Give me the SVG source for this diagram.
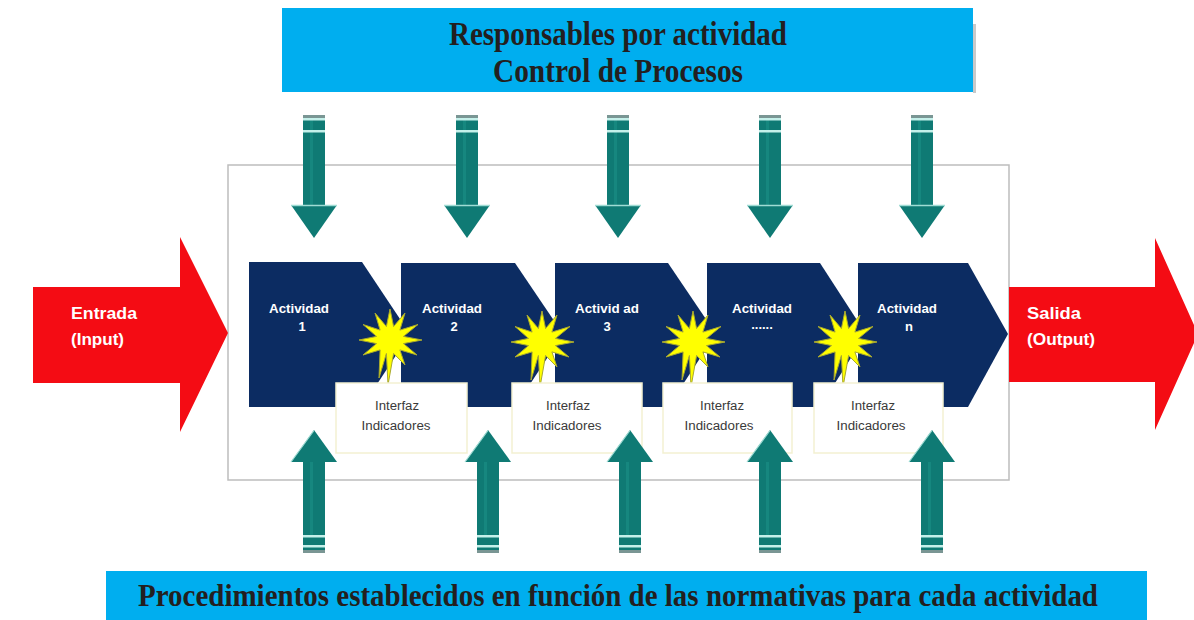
<svg xmlns="http://www.w3.org/2000/svg" xmlns:xlink="http://www.w3.org/1999/xlink" width="1194" height="620" viewBox="0 0 1194 620">
<style>
.banner{fill:#00AEEF}
.title{font-family:"Liberation Serif","DejaVu Serif",serif;font-weight:bold;fill:#231f20;text-anchor:middle}
.act{fill:#0c2c62}
.actT{font-family:"Liberation Sans","DejaVu Sans",sans-serif;font-weight:bold;font-size:13px;fill:#ffffff;text-anchor:middle}
.box{fill:#ffffff;stroke:#f3f1d2;stroke-width:1.5}
.boxT{font-family:"Liberation Sans","DejaVu Sans",sans-serif;font-size:12px;fill:#3a3a3a;text-anchor:middle}
.red{fill:#f40c14}
.redT{font-family:"Liberation Sans","DejaVu Sans",sans-serif;font-weight:bold;font-size:16px;fill:#ffffff}
.teal{fill:#0f7a74}
.lite{fill:#c4f0ea}
.band{fill:#7a9694}
.star{fill:#ffff00;stroke:#a8a830;stroke-width:1}
</style>
<defs>
<g id="downArrow">
<rect class="teal" x="-11" y="0" width="22" height="92"/>
<rect fill="#16877f" x="-4" y="5" width="3" height="87"/>
<rect class="band" x="-11" y="0" width="22" height="3"/>
<rect class="lite" x="-11" y="3" width="22" height="2.5"/>
<rect class="lite" x="-11" y="15" width="22" height="2.5"/>
<polygon class="teal" points="-23,90 23,90 0,123"/>
<line x1="-23" y1="90.5" x2="23" y2="90.5" stroke="#9fdcd4" stroke-width="1.5"/>
</g>
<g id="upArrow">
<polygon class="teal" points="0,0 23,32 -23,32"/>
<line x1="0" y1="0.5" x2="-23" y2="32" stroke="#9fdcd4" stroke-width="1.2"/>
<rect class="teal" x="-11" y="31" width="22" height="92"/>
<rect fill="#16877f" x="-4" y="32" width="3" height="73"/>
<rect class="lite" x="-11" y="105" width="22" height="2.5"/>
<rect class="lite" x="-11" y="115" width="22" height="2.5"/>
<rect class="band" x="-11" y="120" width="22" height="3"/>
</g>
<polygon id="burst" points="0,-31 3.6,-13.5 15,-27 9.9,-9.9 28,-15.5 13.5,-3.6 32,0 13.5,3.6 27,15 9.9,9.9 15,25 3.6,13.5 -2,45 -3.6,13.5 -11,38 -9.9,9.9 -27,15 -13.5,3.6 -31,0 -13.5,-3.6 -27,-15.5 -9.9,-9.9 -15,-27 -3.6,-13.5"/>
</defs>

<g id="frame">
<rect x="228" y="165" width="781" height="315" fill="#ffffff" stroke="#bdbdbd" stroke-width="1.5"/>
</g>

<g id="title">
<rect class="banner" x="282" y="8" width="691" height="84"/>
<rect x="973" y="24" width="3" height="69" fill="#c9c9c9"/>
<text class="title" x="618" y="45" font-size="34" textLength="338" lengthAdjust="spacingAndGlyphs">Responsables por actividad</text>
<text class="title" x="618" y="82" font-size="34" textLength="250" lengthAdjust="spacingAndGlyphs">Control de Procesos</text>
</g>

<g id="connectors">
<use xlink:href="#downArrow" transform="translate(314,115)"/>
<use xlink:href="#downArrow" transform="translate(467,115)"/>
<use xlink:href="#downArrow" transform="translate(618,115)"/>
<use xlink:href="#downArrow" transform="translate(770,115)"/>
<use xlink:href="#downArrow" transform="translate(922,115)"/>
</g>

<g id="actividad1">
<polygon class="act" points="249,262 362,262 410,334 362,407 249,407"/>
<text class="actT" x="299" y="313" textLength="60" lengthAdjust="spacingAndGlyphs">Actividad</text>
<text class="actT" x="302" y="331">1</text>
</g>
<g id="actividad2">
<polygon class="act" points="401,263 515,263 563,334 515,407 401,407"/>
<text class="actT" x="452" y="313" textLength="60" lengthAdjust="spacingAndGlyphs">Actividad</text>
<text class="actT" x="454" y="331">2</text>
</g>
<g id="actividad3">
<polygon class="act" points="555,263 668,263 716,334 668,407 555,407"/>
<text class="actT" x="607" y="313" textLength="64" lengthAdjust="spacingAndGlyphs">Activid ad</text>
<text class="actT" x="607" y="331">3</text>
</g>
<g id="actividad4">
<polygon class="act" points="707,263 820,263 866,334 820,407 707,407"/>
<text class="actT" x="762" y="313" textLength="60" lengthAdjust="spacingAndGlyphs">Actividad</text>
<text class="actT" x="762" y="329">......</text>
</g>
<g id="actividad5">
<polygon class="act" points="858,263 968,263 1008,334 968,407 858,407"/>
<text class="actT" x="907" y="313" textLength="60" lengthAdjust="spacingAndGlyphs">Actividad</text>
<text class="actT" x="909" y="331">n</text>
</g>

<g id="bursts">
<use xlink:href="#burst" class="star" transform="translate(390,340)"/>
<use xlink:href="#burst" class="star" transform="translate(542,342)"/>
<use xlink:href="#burst" class="star" transform="translate(693,342)"/>
<use xlink:href="#burst" class="star" transform="translate(845,342)"/>
</g>

<g id="interfaz1">
<rect class="box" x="336" y="383" width="131" height="70"/>
<text class="boxT" x="397" y="410" textLength="44" lengthAdjust="spacingAndGlyphs">Interfaz</text>
<text class="boxT" x="396" y="430" textLength="69" lengthAdjust="spacingAndGlyphs">Indicadores</text>
</g>
<g id="interfaz2">
<rect class="box" x="512" y="383" width="130" height="70"/>
<text class="boxT" x="568" y="410" textLength="44" lengthAdjust="spacingAndGlyphs">Interfaz</text>
<text class="boxT" x="567" y="430" textLength="69" lengthAdjust="spacingAndGlyphs">Indicadores</text>
</g>
<g id="interfaz3">
<rect class="box" x="663" y="383" width="129" height="70"/>
<text class="boxT" x="722" y="410" textLength="44" lengthAdjust="spacingAndGlyphs">Interfaz</text>
<text class="boxT" x="719" y="430" textLength="69" lengthAdjust="spacingAndGlyphs">Indicadores</text>
</g>
<g id="interfaz4">
<rect class="box" x="814" y="383" width="129" height="70"/>
<text class="boxT" x="873" y="410" textLength="44" lengthAdjust="spacingAndGlyphs">Interfaz</text>
<text class="boxT" x="871" y="430" textLength="69" lengthAdjust="spacingAndGlyphs">Indicadores</text>
</g>

<g id="connectors-up">
<use xlink:href="#upArrow" transform="translate(314,430)"/>
<use xlink:href="#upArrow" transform="translate(488,430)"/>
<use xlink:href="#upArrow" transform="translate(630,430)"/>
<use xlink:href="#upArrow" transform="translate(770,430)"/>
<use xlink:href="#upArrow" transform="translate(932,430)"/>
</g>

<g id="entrada">
<polygon class="red" points="33,287 180,287 180,237 228,333 180,432 180,383 33,383"/>
<text class="redT" x="71" y="319" textLength="66" lengthAdjust="spacingAndGlyphs">Entrada</text>
<text class="redT" x="71" y="345" textLength="53" lengthAdjust="spacingAndGlyphs">(Input)</text>
</g>

<g id="salida">
<polygon class="red" points="1009,287 1155,287 1155,238 1198,334 1155,430 1155,382 1009,382"/>
<text class="redT" x="1027" y="319" textLength="54" lengthAdjust="spacingAndGlyphs">Salida</text>
<text class="redT" x="1027" y="345" textLength="68" lengthAdjust="spacingAndGlyphs">(Output)</text>
</g>

<g id="procedimientos">
<rect class="banner" x="106" y="571" width="1041" height="49"/>
<text class="title" x="618" y="606" font-size="31" textLength="960" lengthAdjust="spacingAndGlyphs">Procedimientos establecidos en función de las normativas para cada actividad</text>
</g>
</svg>
